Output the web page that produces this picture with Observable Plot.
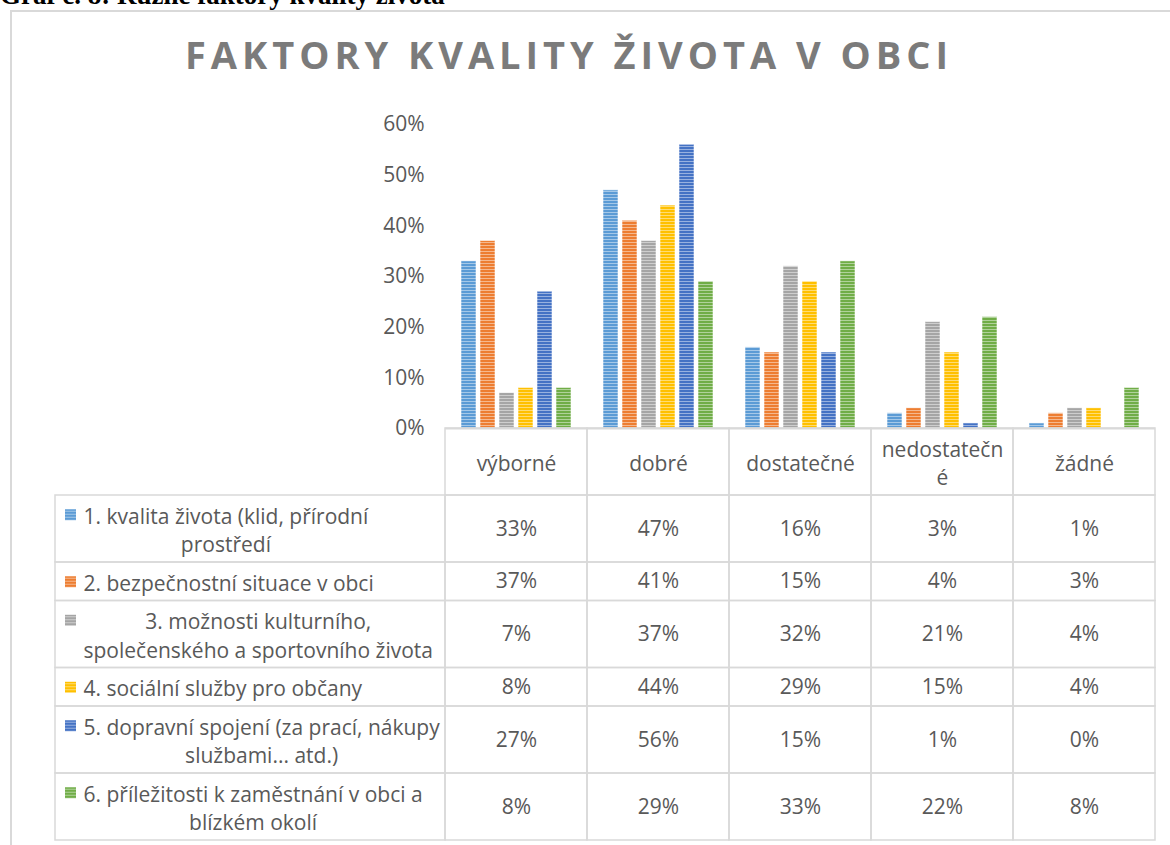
<!DOCTYPE html>
<html>
<head>
<meta charset="utf-8">
<script src="https://cdn.jsdelivr.net/npm/d3@7"></script>
<script src="https://cdn.jsdelivr.net/npm/@observablehq/plot@0.6"></script>
<style>
  html, body { margin: 0; padding: 0; background: #fff; }
  body { width: 1170px; height: 845px; position: relative; overflow: hidden; font-family: 'Open Sans', sans-serif; }
  #caption { position: absolute; left: 0; top: -15px; font: bold 27px/20px 'Liberation Serif', 'Times New Roman', serif; color: #000; white-space: nowrap; }
  #frame { position: absolute; left: 10px; top: 10px; width: 1400px; height: 1000px; border: 2px solid #d9d9d9; box-sizing: border-box; }
  #title { position: absolute; left: 185px; top: 35px; font: bold 38px/38px 'Open Sans', sans-serif; color: #7b7b7b; white-space: nowrap; }
  #chart { position: absolute; left: 0; top: 0; }
  #table { position: absolute; left: 0; top: 428px; }
</style>
</head>
<body>
<div id="caption">Graf č. 8: Různé faktory kvality života</div>
<div id="frame"></div>
<div id="title">FAKTORY KVALITY ŽIVOTA V OBCI</div>
<svg width="0" height="0" style="position:absolute"><defs id="defs"></defs></svg>
<div id="chart"></div>
<div id="table"></div>
<script>
// ---------- data ----------
const categories = ["výborné", "dobré", "dostatečné", "nedostatečné", "žádné"];
const categoryTickLabels = ["výborné", "dobré", "dostatečné", "nedostatečn\né", "žádné"];
const seriesNames = [
  "1. kvalita života (klid, přírodní prostředí",
  "2. bezpečnostní situace v obci",
  "3. možnosti kulturního, společenského a sportovního života",
  "4. sociální služby pro občany",
  "5. dopravní spojení (za prací, nákupy službami... atd.)",
  "6. příležitosti k zaměstnání v obci a blízkém okolí"
];
const seriesLabelLines = [
  ["1. kvalita života (klid, přírodní", "prostředí"],
  ["2. bezpečnostní situace v obci"],
  ["3. možnosti kulturního,", "společenského a sportovního života"],
  ["4. sociální služby pro občany"],
  ["5. dopravní spojení (za prací, nákupy", "službami... atd.)"],
  ["6. příležitosti k zaměstnání v obci a", "blízkém okolí"]
];
const seriesColors = ["#5b9bd5", "#ed7d31", "#a5a5a5", "#ffc000", "#4472c4", "#70ad47"];
const s1 = [33, 47, 16, 3, 1];
const s2 = [37, 41, 15, 4, 3];
const s3 = [7, 37, 32, 21, 4];
const s4 = [8, 44, 29, 15, 4];
const s5 = [27, 56, 15, 1, 0];
const s6 = [8, 29, 33, 22, 8];
const seriesValues = [s1, s2, s3, s4, s5, s6];
const yTicks = [0, 0.1, 0.2, 0.3, 0.4, 0.5, 0.6];

(function () {
// ---------- patterns (striped Excel fills) ----------
const defs = d3.select("#defs");
const patternUrl = seriesColors.map((c, i) => {
  const id = "pat" + i;
  const p = defs.append("pattern").attr("id", id).attr("patternUnits", "userSpaceOnUse")
    .attr("width", 4).attr("height", 3);
  p.append("rect").attr("width", 4).attr("height", 3).attr("fill", c);
  p.append("rect").attr("y", 2).attr("width", 4).attr("height", 1).attr("fill", d3.interpolateRgb(c, "#ffffff")(0.45));
  return `url(#${id})`;
});

// ---------- title letter spacing ----------
const cv = document.createElement("canvas").getContext("2d");
const titleEl = document.getElementById("title");
cv.font = "bold 38px 'Open Sans'";
const titleTxt = titleEl.textContent;
const titleW = cv.measureText(titleTxt).width;
titleEl.style.letterSpacing = Math.max(0, (763 - titleW) / (titleTxt.length - 1)) + "px";

// ---------- chart ----------
const bars = [];
seriesNames.forEach((s, i) => categories.forEach((c, j) => {
  bars.push({series: s, category: c, value: seriesValues[i][j] / 100, pattern: patternUrl[i]});
}));

const fontPx = 21;
const baseStyle = {background: "transparent", fontFamily: "'Open Sans', sans-serif", fontSize: fontPx + "px", color: "#595959", overflow: "visible"};

const chart = Plot.plot({
  width: 1170, height: 430,
  marginTop: 124, marginBottom: 2, marginLeft: 445, marginRight: 15,
  style: baseStyle,
  facet: {data: bars, x: "category"},
  fx: {domain: categories, padding: 0, axis: null, label: null},
  x: {domain: seriesNames, paddingInner: 0.19, paddingOuter: 0.7, axis: null},
  y: {domain: [0, 0.6], ticks: yTicks, tickFormat: d => Math.round(d * 100) + "%", tickSize: 0, tickPadding: 21, label: null},
  color: {type: "identity"},
  marks: [
    Plot.barY(bars, {x: "series", y: "value", fill: "pattern", stroke: "#ffffff", strokeOpacity: 0.55, strokeWidth: 1}),
    Plot.ruleY([0], {stroke: "#d9d9d9", strokeWidth: 2})
  ]
});
document.getElementById("chart").appendChild(chart);

// ---------- data table ----------
const lineH = 28.5;
const rowH = n => 10 + lineH * n;
const headerH = rowH(2);
const bodyRows = [];
let rowTop = headerH;
seriesNames.forEach((s, i) => {
  const n = seriesLabelLines[i].length, h = rowH(n);
  bodyRows.push({i, series: s, top: rowTop, bottom: rowTop + h, mid: rowTop + h / 2, first: rowTop + h / 2 - (n - 1) * lineH / 2, label: seriesLabelLines[i].join("\n")});
  rowTop += h;
});
const tableH = 417;
const headerCells = categories.map((c, j) => ({category: c, top: 0, bottom: headerH, mid: headerH / 2, label: categoryTickLabels[j]}));
const valueCells = [];
bodyRows.forEach(r => categories.forEach((c, j) => valueCells.push({category: c, top: r.top, bottom: r.bottom, mid: r.mid, value: seriesValues[r.i][j]})));

cv.font = fontPx + "px 'Open Sans'";
const legendMarks = [];
bodyRows.forEach(r => {
  const maxW = d3.max(seriesLabelLines[r.i], l => cv.measureText(l).width);
  legendMarks.push(Plot.text([r], {y: "mid", text: "label", frameAnchor: "left", dx: 83 + maxW / 2 - 445, textAnchor: "middle", lineAnchor: "middle", lineHeight: lineH / fontPx, fill: "#595959"}));
  legendMarks.push(Plot.dot([r], {y: "first", frameAnchor: "left", dx: 70 - 445, symbol: "square", r: 6.2, fill: patternUrl[r.i], stroke: "none"}));
});

const grid = "#d9d9d9";
const table = Plot.plot({
  width: 1170, height: tableH,
  marginTop: 0, marginBottom: 0, marginLeft: 445, marginRight: 15,
  style: baseStyle,
  x: {domain: categories, padding: 0, axis: null},
  y: {domain: [0, tableH], range: [0, tableH], axis: null},
  marks: [
    Plot.barY(headerCells, {x: "category", y1: "top", y2: "bottom", fill: "none", stroke: grid, strokeWidth: 1.5}),
    Plot.barY(valueCells, {x: "category", y1: "top", y2: "bottom", fill: "none", stroke: grid, strokeWidth: 1.5}),
    Plot.rect(bodyRows, {y1: "top", y2: "bottom", insetLeft: -390, insetRight: 710, fill: "none", stroke: grid, strokeWidth: 1.5}),
    Plot.text(headerCells, {x: "category", y: "mid", text: "label", lineAnchor: "middle", lineHeight: lineH / fontPx, fill: "#595959"}),
    Plot.text(valueCells, {x: "category", y: "mid", text: d => d.value + "%", fill: "#595959"}),
    ...legendMarks
  ]
});
document.getElementById("table").appendChild(table);
})();
</script>
</body>
</html>
